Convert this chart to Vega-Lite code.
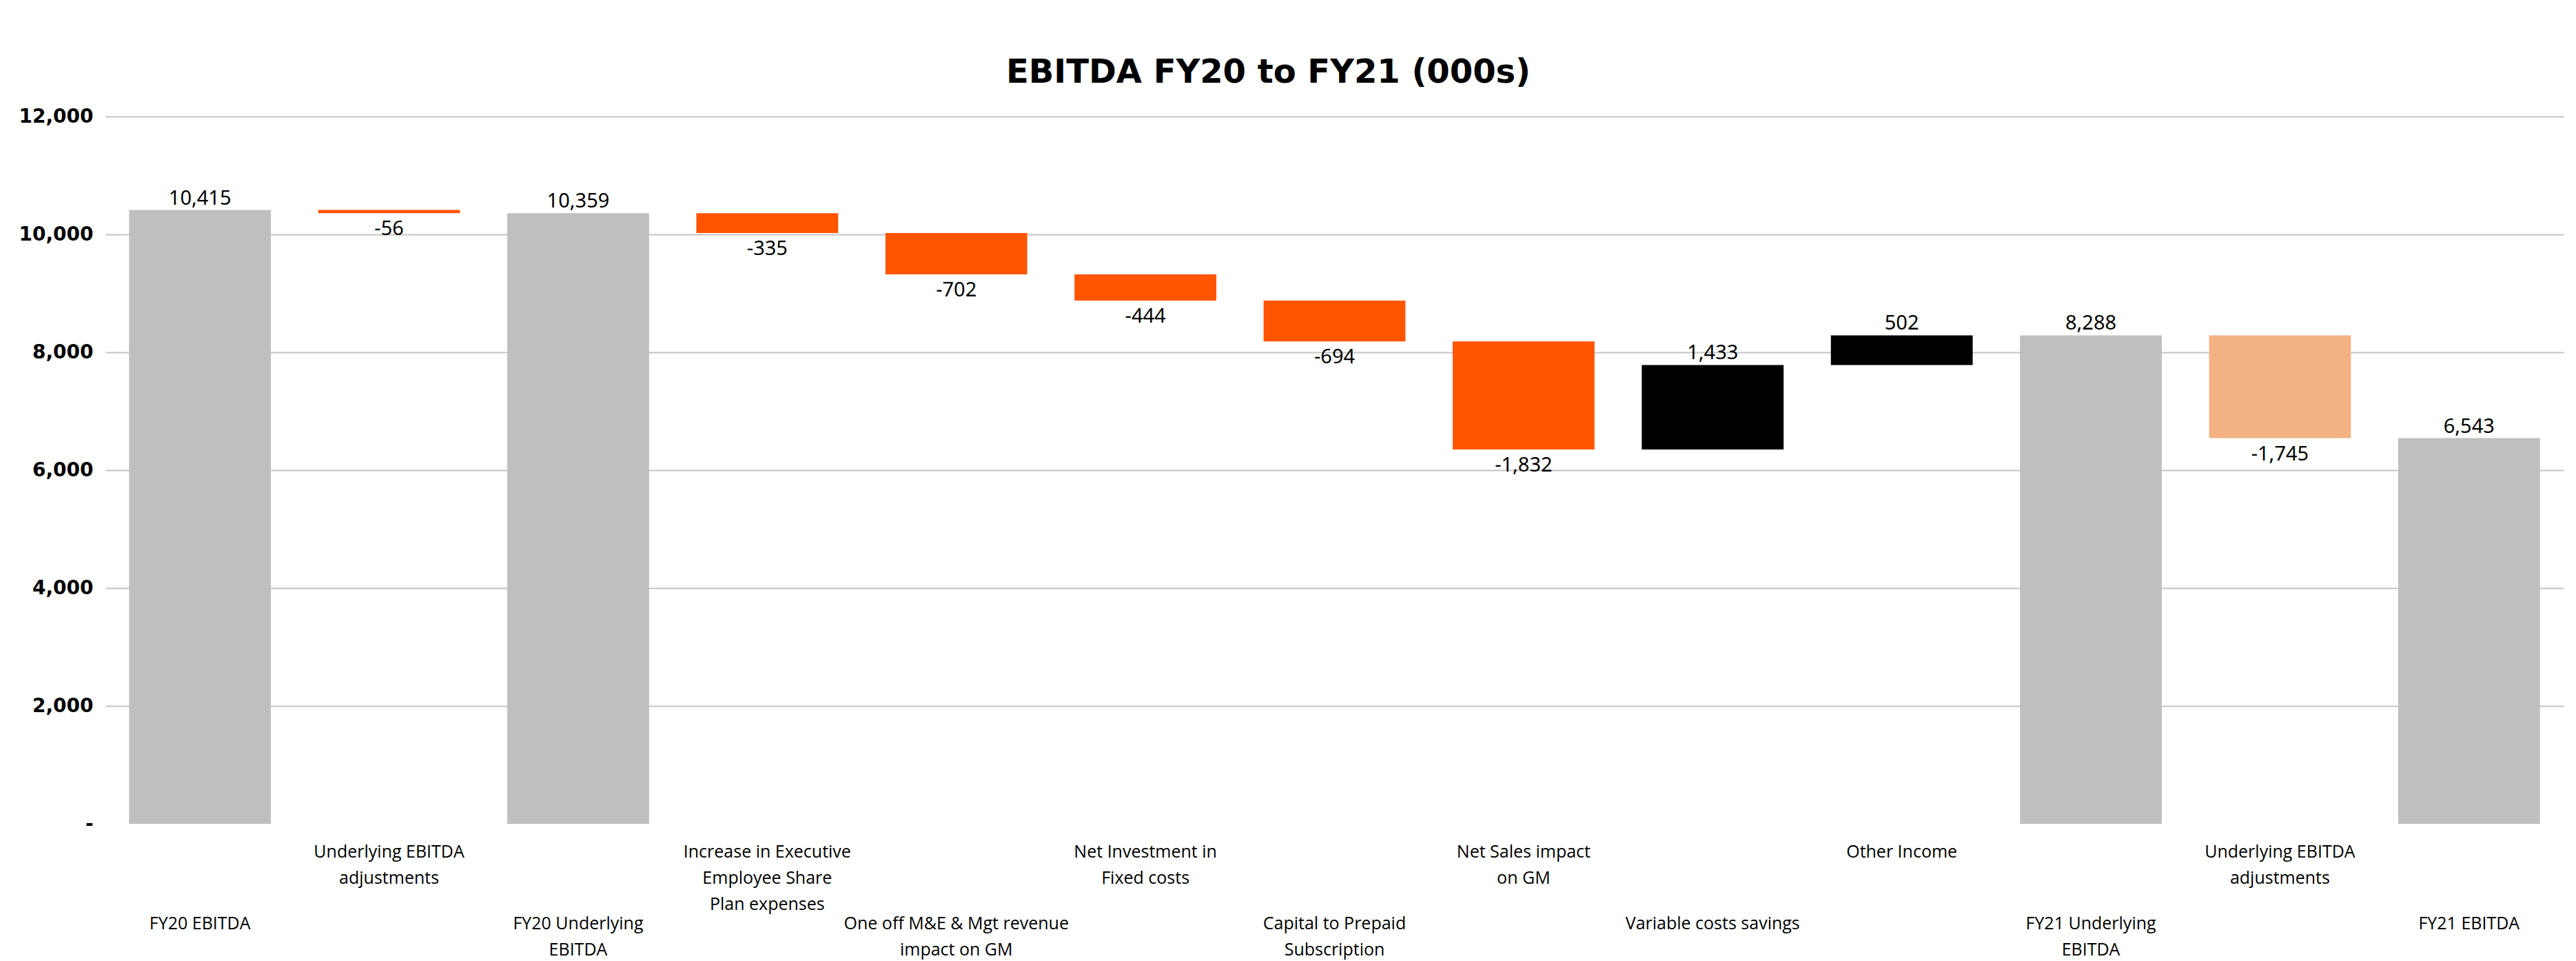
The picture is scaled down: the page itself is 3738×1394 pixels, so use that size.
{
  "$schema": "https://vega.github.io/schema/vega-lite/v6.json",
  "autosize": {"type": "none"},
  "width": 3567,
  "height": 1026,
  "padding": {"left": 153, "top": 169, "right": 18, "bottom": 199},
  "background": "white",
  "title": {
    "text": "EBITDA FY20 to FY21 (000s)",
    "font": "DejaVu Sans",
    "fontSize": 48,
    "fontWeight": "bold",
    "color": "#000000",
    "anchor": "middle",
    "frame": "group",
    "dx": -96,
    "dy": 40,
    "offset": 27,
    "baseline": "alphabetic"
  },
  "data": {
    "values": [
      {"step": "01|FY20 EBITDA", "start": 0, "end": 10415, "kind": "total", "label": "10,415"},
      {"step": "02|Underlying EBITDA|adjustments", "start": 10415, "end": 10359, "kind": "decrease", "label": "-56"},
      {"step": "03|FY20 Underlying|EBITDA", "start": 0, "end": 10359, "kind": "total", "label": "10,359"},
      {"step": "04|Increase in Executive|Employee Share|Plan expenses", "start": 10359, "end": 10024, "kind": "decrease", "label": "-335"},
      {"step": "05|One off M&E & Mgt revenue|impact on GM", "start": 10024, "end": 9322, "kind": "decrease", "label": "-702"},
      {"step": "06|Net Investment in|Fixed costs", "start": 9322, "end": 8878, "kind": "decrease", "label": "-444"},
      {"step": "07|Capital to Prepaid|Subscription", "start": 8878, "end": 8184, "kind": "decrease", "label": "-694"},
      {"step": "08|Net Sales impact|on GM", "start": 8184, "end": 6352, "kind": "decrease", "label": "-1,832"},
      {"step": "09|Variable costs savings", "start": 6352, "end": 7785, "kind": "increase", "label": "1,433"},
      {"step": "10|Other Income", "start": 7785, "end": 8287, "kind": "increase", "label": "502"},
      {"step": "11|FY21 Underlying|EBITDA", "start": 0, "end": 8288, "kind": "total", "label": "8,288"},
      {"step": "12|Underlying EBITDA|adjustments", "start": 8288, "end": 6543, "kind": "adjustment", "label": "-1,745"},
      {"step": "13|FY21 EBITDA", "start": 0, "end": 6543, "kind": "total", "label": "6,543"}
    ]
  },
  "encoding": {
    "x": {
      "field": "step",
      "type": "nominal",
      "sort": null,
      "scale": {"paddingInner": 0.25, "paddingOuter": 0.125},
      "axis": {
        "title": null,
        "domain": false,
        "ticks": false,
        "grid": false,
        "labelAngle": 0,
        "labelFont": "Open Sans",
        "labelFontSize": 25,
        "labelColor": "#000000",
        "labelLineHeight": 38,
        "labelBaseline": "top",
        "labelAlign": "center",
        "labelLimit": 1000,
        "labelOverlap": false,
        "labelBound": false,
        "labelExpr": "slice(split(datum.value, '|'), 1)",
        "labelPadding": {
          "condition": {"test": "parseInt(substring(datum.value, 0, 2)) % 2 == 1", "value": 132},
          "value": 28
        }
      }
    }
  },
  "layer": [
    {
      "mark": {"type": "bar"},
      "encoding": {
        "y": {
          "field": "start",
          "type": "quantitative",
          "scale": {"domain": [0, 12000], "nice": false},
          "axis": {
            "title": null,
            "values": [0, 2000, 4000, 6000, 8000, 10000, 12000],
            "labelExpr": "datum.value == 0 ? '-' : format(datum.value, ',')",
            "domain": false,
            "ticks": false,
            "labelPadding": 18,
            "labelFont": "DejaVu Sans",
            "labelFontWeight": "bold",
            "labelFontSize": 28,
            "labelColor": "#000000",
            "grid": true,
            "gridWidth": 2,
            "gridColor": {
              "condition": {"test": "datum.value == 0", "value": "transparent"},
              "value": "#c4c4c4"
            }
          }
        },
        "y2": {"field": "end"},
        "color": {
          "field": "kind",
          "type": "nominal",
          "scale": {
            "domain": ["total", "decrease", "increase", "adjustment"],
            "range": ["#bfbfbf", "#ff5500", "#000000", "#f4b183"]
          },
          "legend": null
        }
      }
    },
    {
      "transform": [{"filter": "datum.kind == 'total' || datum.kind == 'increase'"}],
      "mark": {"type": "text", "font": "Noto Sans", "fontSize": 29, "baseline": "middle", "dy": -17, "color": "#000000"},
      "encoding": {
        "y": {"field": "end", "type": "quantitative"},
        "text": {"field": "label"}
      }
    },
    {
      "transform": [{"filter": "datum.kind == 'decrease' || datum.kind == 'adjustment'"}],
      "mark": {"type": "text", "font": "Noto Sans", "fontSize": 29, "baseline": "middle", "dy": 23, "color": "#000000"},
      "encoding": {
        "y": {"field": "end", "type": "quantitative"},
        "text": {"field": "label"}
      }
    }
  ],
  "config": {"view": {"stroke": null}}
}
